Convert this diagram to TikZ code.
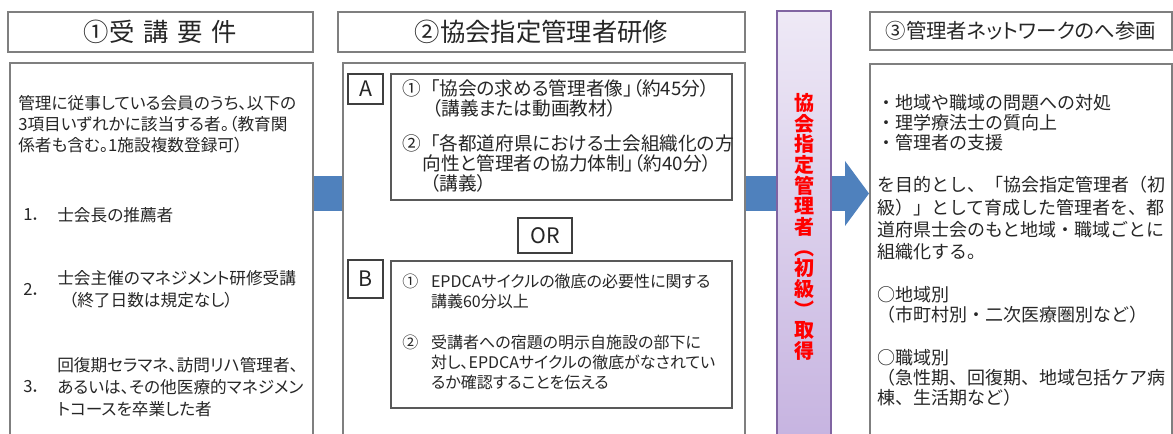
\documentclass[tikz,border=0pt]{standalone}
\usepackage{fontspec}
\setmainfont{Noto Sans CJK JP}[RawFeature=+palt]
\newfontfamily\fulljp{Noto Sans CJK JP}
\usetikzlibrary{arrows.meta}
\definecolor{framegray}{HTML}{7F7F7F}
\definecolor{ink}{HTML}{262626}
\definecolor{tagline}{HTML}{3F3F3F}
\definecolor{arrowblue}{HTML}{4F81BD}
\definecolor{barline}{HTML}{8064A2}
\definecolor{bartop}{HTML}{EEE9F6}
\definecolor{barbottom}{HTML}{C6B3E0}
\definecolor{barred}{HTML}{FF0000}
\begin{document}
\begin{tikzpicture}[x=0.75pt,y=-0.75pt,
    framebox/.style={draw=framegray,line width=1.5pt,fill=white,inner sep=0pt},
    heading/.style={framebox,text=ink,font=\fontsize{19}{23}\selectfont},
    tagbox/.style={draw=tagline,line width=0.9pt,fill=white,inner sep=0pt,text=ink,font=\fontsize{16}{19}\selectfont},
    itembox/.style={draw=framegray!70!black,line width=1.1pt,inner sep=0pt},
    txt/.style={inner sep=0pt,anchor=west,align=left,text=ink},
    reqtxt/.style={txt,font=\fontsize{12.5}{15.75}\selectfont},
    listtxt/.style={txt,font=\fontsize{12.5}{16.5}\selectfont},
    coursetxt/.style={txt,font=\fontsize{14}{15}\selectfont},
    latintxt/.style={txt,font=\fontsize{12}{15}\selectfont},
    nettxt/.style={txt,font=\fulljp\fontsize{13.5}{15}\selectfont},
    band/.style={draw=arrowblue,line width=26.25pt,-{Triangle[length=18pt,width=48.75pt,line width=0pt]}}
  ]
  \useasboundingbox (0,0) rectangle (1173,434);
  \clip (0,0) rectangle (1173,434);
  \fill[white] (0,0) rectangle (1173,434);
  \coordinate (level) at (0,193.5);

  \node[heading,minimum width=228.75pt,minimum height=30pt] (reqhead) at (160.5,32) {①受\hspace{0.35em}講\hspace{0.35em}要\hspace{0.35em}件};
  \node[heading,minimum width=305.25pt,minimum height=30pt] (coursehead) at (541.5,32) {②協会指定管理者研修};
  \node[heading,font=\fontsize{15.3}{18}\selectfont,minimum width=226.5pt,minimum height=28.5pt] (nethead) at (1021,31) {③管理者ネットワークのへ参画};

  \node[framebox,minimum width=227.25pt,minimum height=286.5pt] (req) at (161.5,254) {};
  \node[framebox,minimum width=226.5pt,minimum height=285.75pt] (net) at (1021,254.5) {};
  \draw[band] (req.east |- level) -- (net.west |- level);
  \node[framebox,minimum width=301.5pt,minimum height=286.5pt] (course) at (544,254) {};
  \node[draw=barline,line width=1.5pt,top color=bartop,bottom color=barbottom,minimum width=40.5pt,minimum height=324pt,inner sep=0pt,
    align=center,text=barred,font=\bfseries\fontsize{15}{15.5}\selectfont] (cert) at (804,227)
    {協\\会\\指\\定\\管\\理\\者\\︵\\初\\級\\︶\\取\\得};

  \node[reqtxt] (reqintro) at (18,124) {管理に従事している会員のうち、以下の\\3項目いずれかに該当する者。（教育関\\係者も含む。1施設複数登録可）};
  \node[reqtxt] (num1) at (23,215) {1．};
  \node[listtxt] (item1) at (57,215) {士会長の推薦者};
  \node[reqtxt] (num2) at (23,289) {2．};
  \node[listtxt] (item2) at (57,289) {士会主催のマネジメント研修受講\\\hspace*{0.7em}（終了日数は規定なし）};
  \node[reqtxt] (num3) at (23,387) {3．};
  \node[listtxt] (item3) at (57,387) {回復期セラマネ、訪問リハ管理者、\\あるいは、その他医療的マネジメン\\トコースを卒業した者};

  \node[tagbox,minimum width=26.25pt,minimum height=22.5pt] (tagA) at (365.5,89) {A};
  \node[itembox,minimum width=255.75pt,minimum height=94.5pt] (itemA) at (561.5,137) {};
  \node[tagbox,minimum width=40.5pt,minimum height=26.25pt] (orbox) at (545,235.5) {OR};
  \node[tagbox,minimum width=26.25pt,minimum height=28.5pt] (tagB) at (365.5,279) {B};
  \node[itembox,minimum width=255.75pt,minimum height=110.25pt] (itemB) at (561.5,334.5) {};
  \node[coursetxt] (textA) at (402,135.5) {①\hspace{0.5em}「協会の求める管理者像」（約45分）\\\hspace*{1.6em}（講義または動画教材）\\[11.25pt]
    ②\hspace{0.5em}「各都道府県における士会組織化の方\\\hspace*{1.1em}向性と管理者の協力体制」（約40分）\\\hspace*{1.5em}（講義）};
  \node[latintxt] (textB) at (402,332) {\makebox[1.8em][l]{①}EPDCAサイクルの徹底の必要性に関する\\\hspace*{1.8em}講義60分以上\\[16.25pt]
    \makebox[1.8em][l]{②}受講者への宿題の明示自施設の部下に\\\hspace*{1.8em}対し、EPDCAサイクルの徹底がなされてい\\\hspace*{1.8em}るか確認することを伝える};

  \node[nettxt] (aims) at (877,123) {・地域や職域の問題への対処\\・理学療法士の質向上\\・管理者の支援};
  \node[nettxt,font=\fulljp\fontsize{13.5}{16.75}\selectfont] (purpose) at (877,218.5) {を目的とし、「協会指定管理者（初\\級）」として育成した管理者を、都\\道府県士会のもと地域・職域ごとに\\組織化する。};
  \node[nettxt] (region) at (877,305) {○地域別\\（市町村別・二次医療圏別など）};
  \node[nettxt] (field) at (877,378) {○職域別\\（急性期、回復期、地域包括ケア病\\棟、生活期など）};
\end{tikzpicture}
\end{document}
